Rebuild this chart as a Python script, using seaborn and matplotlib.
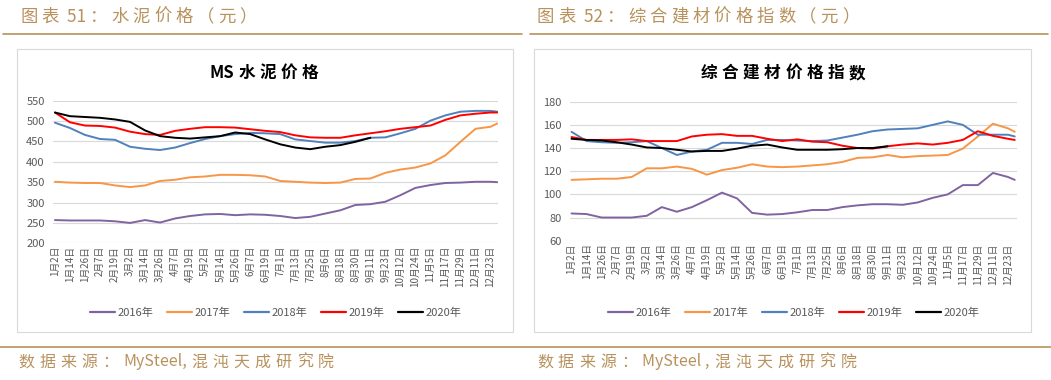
import re
import pandas as pd
import matplotlib
matplotlib.use("Agg")
import matplotlib.pyplot as plt
from matplotlib.lines import Line2D
from matplotlib.patches import Rectangle
import seaborn as sns

# tick labels (one every 12 trading days)
tick_labels = ['1月2日', '1月14日', '1月26日', '2月7日', '2月19日', '3月2日', '3月14日',
               '3月26日', '4月7日', '4月19日', '5月2日', '5月14日', '5月26日', '6月7日',
               '6月19日', '7月1日', '7月13日', '7月25日', '8月6日', '8月18日', '8月30日',
               '9月11日', '9月23日', '10月12日', '10月24日', '11月5日', '11月17日',
               '11月29日', '12月11日', '12月23日']
# position of each sample, in tick units (last one is year end)
pos = list(range(30)) + [29.45]
years = ['2016年', '2017年', '2018年', '2019年', '2020年']

# 图表51: MS水泥价格
cement_2016 = [257, 256, 256, 256, 254, 250, 257, 251, 261, 267, 271, 272, 269, 271, 270, 267,
               262, 265, 273, 281, 294, 296, 302, 318, 336, 343, 348, 349, 351, 351, 350]
cement_2017 = [351, 349, 348, 348, 342, 338, 342, 353, 356, 362, 364, 368, 368, 367, 364, 353,
               351, 349, 348, 349, 358, 359, 373, 381, 386, 396, 416, 449, 481, 486, 494]
cement_2018 = [496, 483, 466, 456, 454, 437, 432, 429, 435, 446, 456, 463, 468, 471, 470, 468,
               455, 451, 447, 447, 451, 459, 460, 470, 481, 501, 514, 523, 525, 525, 523]
cement_2019 = [521, 497, 489, 488, 484, 474, 468, 466, 476, 481, 485, 485, 484, 480, 476, 473,
               465, 460, 459, 459, 465, 470, 475, 481, 485, 489, 503, 514, 518, 521, 521]
cement_2020 = [521, 512, 510, 508, 504, 498, 477, 463, 459, 457, 460, 463, 472, 468, 455, 443,
               435, 431, 437, 441, 449, 459]

# 图表52: 综合建材价格指数
index_2016 = [83.5, 83, 80, 80, 80, 81.5, 89, 85, 89, 95, 101.5, 96.5, 84, 82.5, 83, 84.5,
              86.5, 86.5, 89, 90.5, 91.5, 91.5, 91, 93, 97, 100, 108, 108, 118.5, 115, 112.5]
index_2017 = [112.5, 113, 113.5, 113.5, 115, 122.5, 122.5, 124, 122, 117, 121, 123, 126, 124,
              123.5, 124, 125, 126, 128, 131.5, 132, 134, 132, 133, 133.5, 134, 139.5, 150,
              161, 157, 154]
index_2018 = [154, 146, 145, 144.5, 145, 146, 140, 134, 137, 138.5, 144.5, 144.5, 143.5, 147,
              147, 146.5, 146, 146.5, 149, 151.5, 154.5, 156, 156.5, 157, 160, 163, 160,
              151.5, 151.5, 151.5, 150]
index_2019 = [149.5, 147, 147, 147, 147.5, 146, 146, 146, 150, 151.5, 152, 150.5, 150.5, 148,
              146, 147.5, 145.5, 145, 142, 140, 139.5, 141.5, 143, 144, 143, 144.5, 147,
              154.5, 150.5, 148, 147]
index_2020 = [148, 147, 146.5, 145, 143, 140.5, 140, 138.5, 137, 137.5, 137.5, 139.5, 142,
              143, 140.5, 138.5, 138.5, 138.5, 139, 140, 140, 141.5]

colors = ['#8064A2', '#F79646', '#4F81BD', '#FF0000', '#000000']
gold = '#B8925C'
grey_txt = '#595959'


def long_frame(series):
    rows = []
    for yr, vals in zip(years, series):
        for x, v in zip(pos, vals):
            rows.append({'x': x, 'value': v, 'year': yr})
    return pd.DataFrame(rows)


sns.set_theme(style="white")
plt.rcParams['font.family'] = ['Noto Sans CJK SC', 'DejaVu Sans']

fig = plt.figure(figsize=(10.51, 3.8), dpi=100)
W, H = 1051, 380
renderer = fig.canvas.get_renderer()


def fx(px):
    return px / W


def fy(py):
    return 1 - py / H


def spaced_text(x_px, y_px, s, gap, center=False, **kw):
    # letter-spaced text: ascii runs stay together, CJK chars get extra gap
    tokens = re.findall(r'[A-Za-z0-9 ,]+|.', s)
    pieces = []
    x = 0
    for tok in tokens:
        t = fig.text(0, fy(y_px), tok, va='center', ha='left', **kw)
        w = t.get_window_extent(renderer).width
        pieces.append((t, x))
        x += w + gap
    total = x - gap
    start = x_px - total / 2 if center else x_px
    for t, off in pieces:
        t.set_x(fx(start + off))


panels = [
    dict(box=(17, 49, 513, 332), ax=(53, 100.7, 498, 243.3), xlim=(-0.13, 29.5),
         ylim=(200, 550), step=50, title='MS水泥价格', title_x=264,
         head_x=20, head='图表 51：水泥价格（元）', src_x=18, src='数据来源：MySteel,混沌天成研究院',
         line=(3, 522),
         data=[cement_2016, cement_2017, cement_2018, cement_2019, cement_2020]),
    dict(box=(534, 49, 1031, 332), ax=(570, 101.7, 1017, 240.7), xlim=(-0.1, 29.6),
         ylim=(60, 180), step=20, title='综合建材价格指数', title_x=783,
         head_x=537, head='图表 52：综合建材价格指数（元）', src_x=537,
         src='数据来源：MySteel ,混沌天成研究院', line=(530, 1048),
         data=[index_2016, index_2017, index_2018, index_2019, index_2020]),
]

for p in panels:
    # heading + rules
    spaced_text(p['head_x'], 17, p['head'], 4, color=gold, fontsize=12.5)
    fig.add_artist(Line2D([fx(p['line'][0]), fx(p['line'][1])], [fy(34), fy(34)],
                          color=gold, lw=1.2, transform=fig.transFigure))
    spaced_text(p['src_x'], 362, p['src'], 5, color=gold, fontsize=11.5)
    # chart frame
    x0, y0, x1, y1 = p['box']
    fig.add_artist(Rectangle((fx(x0), fy(y1)), fx(x1 - x0), (y1 - y0) / H, fill=False,
                             edgecolor='#D9D9D9', lw=0.8, transform=fig.transFigure))
    spaced_text(p['title_x'], 73, p['title'], 4.5, center=True, fontsize=12,
                fontweight='bold', color='black')

    a0, b0, a1, b1 = p['ax']
    ax = fig.add_axes([fx(a0), fy(b1), fx(a1 - a0), (b1 - b0) / H])
    df = long_frame(p['data'])
    sns.lineplot(data=df, x='x', y='value', hue='year', palette=colors, linewidth=1.4,
                 ax=ax, legend=False)
    ax.set_xlim(*p['xlim'])
    ax.set_ylim(*p['ylim'])
    ax.set_yticks(range(p['ylim'][0], p['ylim'][1] + 1, p['step']))
    ax.set_xticks(range(30))
    ax.set_xticklabels(tick_labels, rotation=90, fontsize=7, color=grey_txt)
    ax.tick_params(axis='y', labelsize=8, labelcolor=grey_txt, length=0, pad=6)
    ax.tick_params(axis='x', length=0, pad=2)
    ax.grid(axis='y', color='#D9D9D9', lw=0.8)
    ax.set_axisbelow(True)
    for s in ax.spines.values():
        s.set_visible(False)
    ax.set_xlabel('')
    ax.set_ylabel('')
    handles = [Line2D([], [], color=c, lw=1.6) for c in colors]
    ax.legend(handles, years, loc='center', bbox_to_anchor=(0.5, (313 - b1) / (b1 - b0) * -1),
              ncol=5, frameon=False, fontsize=8, handlelength=2.3, columnspacing=1.2,
              handletextpad=0.2, labelcolor=grey_txt)

# bottom rule
fig.add_artist(Line2D([0, 1], [fy(347), fy(347)], color=gold, lw=1.2, transform=fig.transFigure))

fig.savefig('out.png', dpi=100, facecolor='white')
